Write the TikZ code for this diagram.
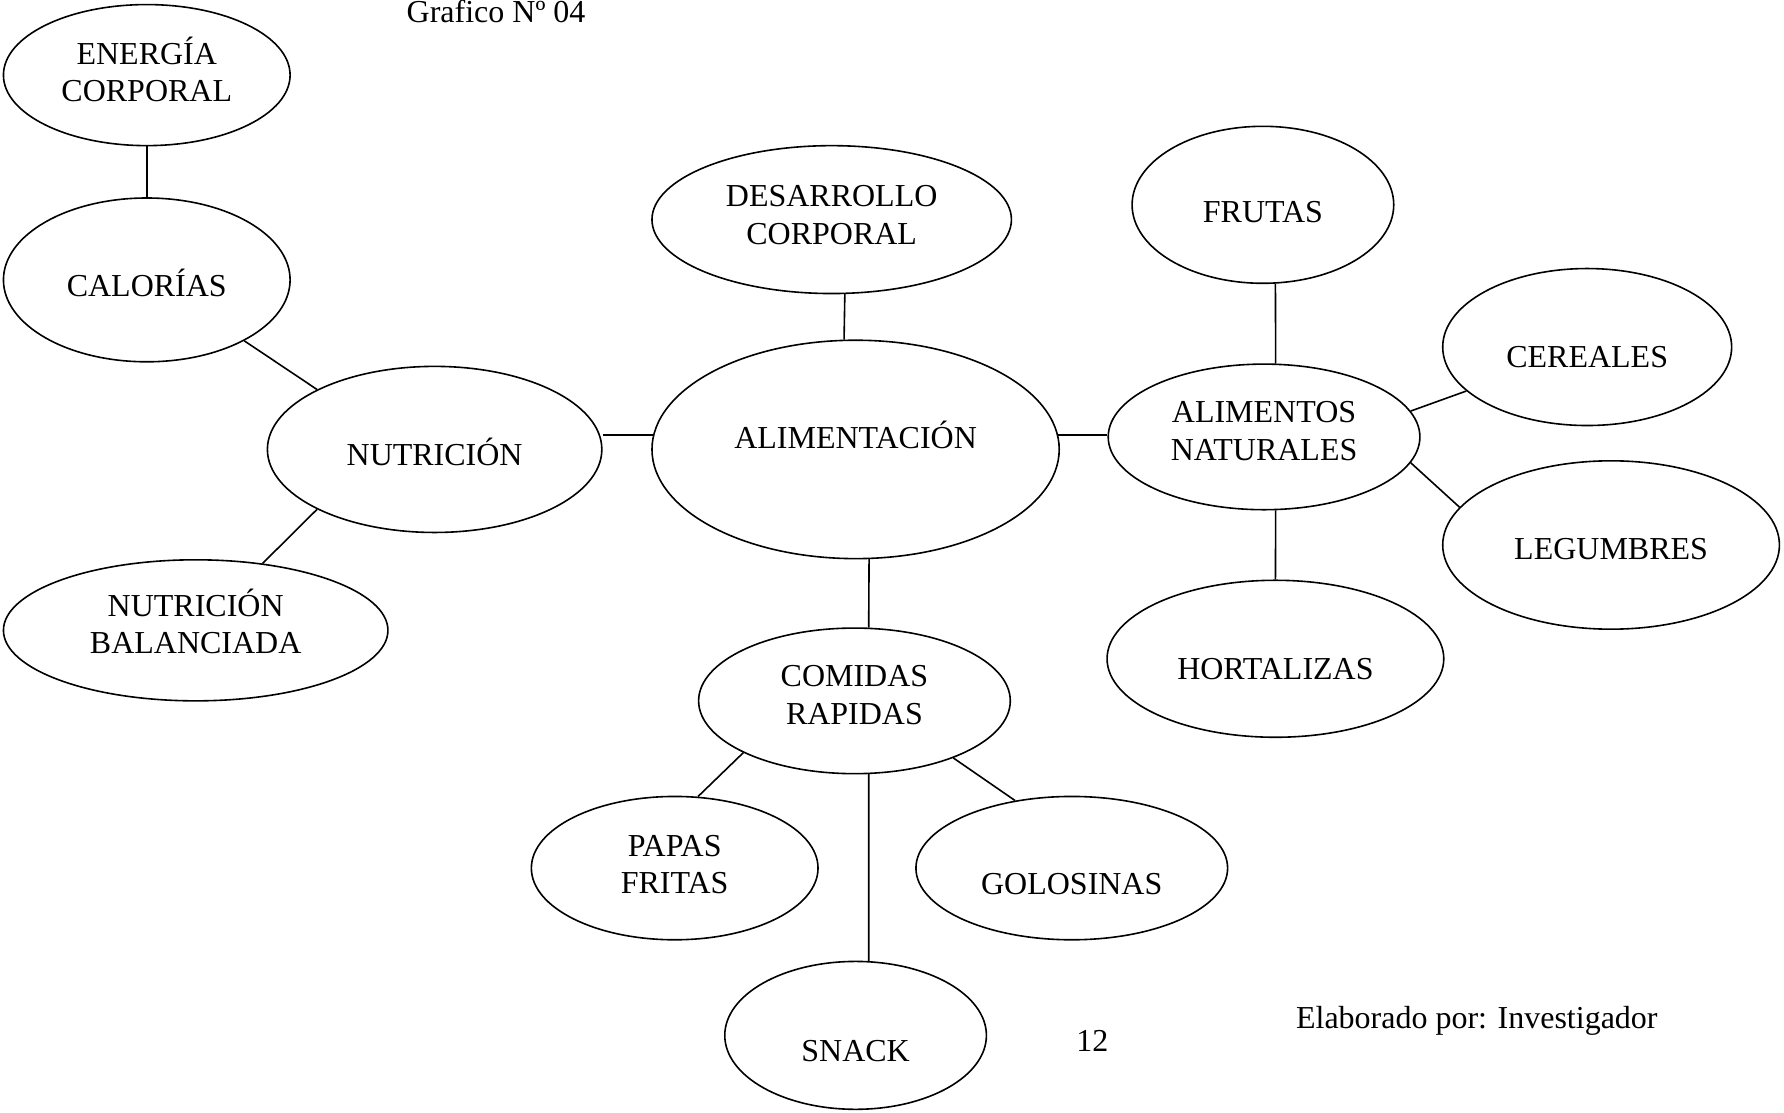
\documentclass[tikz,border=0pt]{standalone}
\usepackage{fontspec}
\setmainfont{Liberation Serif}
\usetikzlibrary{shapes.geometric}

\tikzset{
  elli/.style={draw,ellipse,inner sep=0pt},
  txt/.style 2 args={label={[yshift=#1]center:#2}}
}

\begin{document}
\begin{tikzpicture}[x=0.02cm,y=-0.02cm,line width=0.8pt,
    every node/.style={font=\fontsize{16}{18.8}\selectfont,align=center}]
    \useasboundingbox (0,0) rectangle (1568,978);

    \node[elli,minimum width=7.16cm,minimum height=3.84cm,txt={0.26cm}{ALIMENTACI\'ON}] (alim) at (752,395) {};

    \node[elli,minimum width=5.88cm,minimum height=2.92cm,txt={-0.04cm}{NUTRICI\'ON}] (nutri) at (382,395) {};
    \node[elli,minimum width=5.04cm,minimum height=2.88cm,txt={-0.06cm}{CALOR\'IAS}] (calor) at (129,246) {};
    \node[elli,minimum width=5.04cm,minimum height=2.48cm,txt={0.1cm}{ENERG\'IA\\CORPORAL}] (energia) at (129,66) {};
    \node[elli,minimum width=6.76cm,minimum height=2.48cm,txt={0.16cm}{NUTRICI\'ON\\BALANCIADA}] (balan) at (172,554) {};

    \node[elli,minimum width=6.32cm,minimum height=2.6cm,txt={0.08cm}{DESARROLLO\\CORPORAL}] (desa) at (731,193) {};

    \node[elli,minimum width=5.48cm,minimum height=2.56cm,txt={0.1cm}{ALIMENTOS\\NATURALES}] (natur) at (1111,384) {};
    \node[elli,minimum width=4.6cm,minimum height=2.76cm,txt={-0.12cm}{FRUTAS}] (frutas) at (1110,180) {};
    \node[elli,minimum width=5.08cm,minimum height=2.76cm,txt={-0.18cm}{CEREALES}] (cereal) at (1395,305) {};
    \node[elli,minimum width=5.92cm,minimum height=2.96cm,txt={-0.08cm}{LEGUMBRES}] (legum) at (1416,479) {};
    \node[elli,minimum width=5.92cm,minimum height=2.76cm,txt={-0.18cm}{HORTALIZAS}] (horta) at (1121,579) {};

    \node[elli,minimum width=5.48cm,minimum height=2.56cm,txt={0.1cm}{COMIDAS\\RAPIDAS}] (comida) at (751,616) {};
    \node[elli,minimum width=5.04cm,minimum height=2.52cm,txt={0.06cm}{PAPAS\\FRITAS}] (papas) at (593,763) {};
    \node[elli,minimum width=5.48cm,minimum height=2.52cm,txt={-0.28cm}{GOLOSINAS}] (golos) at (942,763) {};
    \node[elli,minimum width=4.6cm,minimum height=2.6cm,txt={-0.28cm}{SNACK}] (snack) at (752,910) {};

    \node[anchor=base] (titulo) at (436,19.5) {Grafico N\textordmasculine{} 04};
    \node[anchor=base] (pagina) at (960,924) {12};
    \node[anchor=base] (autor) at (1298,904) {Elaborado por: Investigador};

    \draw (energia.south) -- (calor.north);
    \draw (calor.-32) -- (nutri.153);
    \draw (nutri.207) -- (balan.45);
    \draw (alim.176 -| nutri.east) -- (alim.176);
    \draw (desa.-80) -- (alim.96);
    \draw (alim.4) -- (alim.4 -| natur.west);
    \draw (alim.-83) -- (comida.79);
    \draw (frutas.-81) -- (natur.81);
    \draw (natur.10) -- (cereal.200);
    \draw (natur.-10) -- (legum.166);
    \draw (natur.-81) -- (horta.north);
    \draw (comida.205) -- (papas.72);
    \draw (comida.-79) -- (snack.80);
    \draw (comida.-30) -- (golos.130);
  \end{tikzpicture}
\end{document}
